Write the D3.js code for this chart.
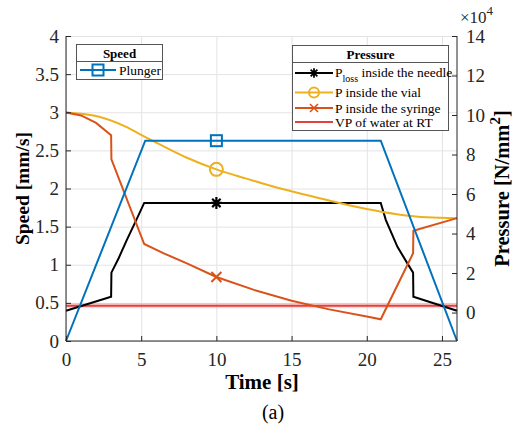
<html>
<head>
<style>
  body { margin: 0; background: #fff; }
  svg text { font-family: "Liberation Serif", "Times New Roman", serif; }
</style>
</head>
<body>
<svg id="chart" width="520" height="428"></svg>
<script src="https://cdn.jsdelivr.net/npm/d3@7"></script>
<script>
// speed (left axis)
var plungerT = [0, 5.27, 20.93, 26];
var plungerV = [0, 2.627, 2.627, 0];

// pressure, x10^4 (right axis)
var needleT = [0, 3.0, 3.02, 3.5, 4.04, 4.67, 5.2, 20.93, 21.27, 22.04, 22.7, 23.08, 23.1, 26];
var needleP = [0.09, 0.8, 2.02, 2.75, 3.67, 4.68, 5.55, 5.55, 4.68, 3.33, 2.49, 2.02, 0.8, 0.09];

var vialT = [0, 2, 4, 5, 6, 8, 10, 12, 14, 16, 18, 20, 22, 24, 26];
var vialP = [10.13, 9.95, 9.4, 8.99, 8.6, 7.85, 7.25, 6.78, 6.33, 5.95, 5.58, 5.24, 4.98, 4.82, 4.78];

var syringeT = [0, 1, 2, 3, 3.02, 5.2, 6.5, 8, 10, 12.5, 15, 17.5, 20, 20.93, 23.08, 23.1, 26];
var syringeP = [10.13, 9.98, 9.6, 8.98, 7.76, 3.47, 3.0, 2.5, 1.8, 1.15, 0.6, 0.16, -0.2, -0.34, 3.0, 4.14, 4.78];

var vaporP = 0.35;
var markerT = 10;

var xTicks = [0, 5, 10, 15, 20, 25];
var speedTicks = [0, 0.5, 1, 1.5, 2, 2.5, 3, 3.5, 4];
var pressTicks = [0, 2, 4, 6, 8, 10, 12, 14];

var blue = '#0072BD', orange = '#D95319', yellow = '#EDB120', red = '#E5403C', axisCol = '#262626';

var m = {left: 66, right: 63, top: 36, bottom: 87};
var W = 520 - m.left - m.right, H = 428 - m.top - m.bottom;

var svg = d3.select('#chart');
var g = svg.append('g').attr('transform', 'translate(' + m.left + ',' + m.top + ')');

var x = d3.scaleLinear().domain([0, 26]).range([0, W]);
var yS = d3.scaleLinear().domain([0, 4]).range([H, 0]);
var yP = d3.scaleLinear().domain([-1.44, 14]).range([H, 0]);

// grid
g.append('g').attr('class', 'grid')
  .attr('transform', 'translate(0,' + H + ')')
  .call(d3.axisBottom(x).tickValues(xTicks).tickSize(-H).tickFormat(''));
g.append('g').attr('class', 'grid')
  .call(d3.axisLeft(yS).tickValues(speedTicks).tickSize(-W).tickFormat(''));
g.selectAll('.grid .domain').remove();
g.selectAll('.grid line').attr('stroke', '#e3e3e3').attr('stroke-width', 1);

function pts(t, v) { return t.map(function(d, i) { return [d, v[i]]; }); }

// red vapour pressure line
g.append('line').attr('x1', 0).attr('x2', W).attr('y1', yP(vaporP)).attr('y2', yP(vaporP))
  .attr('stroke', red).attr('stroke-opacity', 0.2).attr('stroke-width', 5);
g.append('line').attr('x1', 0).attr('x2', W).attr('y1', yP(vaporP)).attr('y2', yP(vaporP))
  .attr('stroke', red).attr('stroke-width', 2);

var lineP = d3.line().x(function(d) { return x(d[0]); }).y(function(d) { return yP(d[1]); });
var lineS = d3.line().x(function(d) { return x(d[0]); }).y(function(d) { return yS(d[1]); });

g.append('path').datum(pts(needleT, needleP)).attr('d', lineP)
  .attr('fill', 'none').attr('stroke', '#000').attr('stroke-width', 2);
g.append('path').datum(pts(vialT, vialP)).attr('d', lineP.curve(d3.curveMonotoneX))
  .attr('fill', 'none').attr('stroke', yellow).attr('stroke-width', 2);
lineP.curve(d3.curveLinear);
g.append('path').datum(pts(syringeT, syringeP)).attr('d', lineP)
  .attr('fill', 'none').attr('stroke', orange).attr('stroke-width', 2);
g.append('path').datum(pts(plungerT, plungerV)).attr('d', lineS)
  .attr('fill', 'none').attr('stroke', blue).attr('stroke-width', 2);

// markers
function interp(t, v, at) {
  for (var i = 1; i < t.length; i++) {
    if (at <= t[i]) return v[i - 1] + (v[i] - v[i - 1]) * (at - t[i - 1]) / (t[i] - t[i - 1]);
  }
  return v[v.length - 1];
}
function marker(sel, type, cx, cy, col) {
  var mg = sel.append('g').attr('transform', 'translate(' + cx + ',' + cy + ')')
    .attr('stroke', col).attr('fill', 'none').attr('stroke-width', 2);
  if (type == 'square') mg.append('rect').attr('x', -5.5).attr('y', -5.5).attr('width', 11).attr('height', 11);
  if (type == 'circle') mg.append('circle').attr('r', 6.5);
  if (type == 'x') mg.append('path').attr('d', 'M-5,-5L5,5M-5,5L5,-5');
  if (type == 'star') mg.append('path').attr('d', 'M-5.5,0L5.5,0M0,-6L0,6M-4.2,-4.2L4.2,4.2M-4.2,4.2L4.2,-4.2').attr('stroke-width', 2.2);
}
marker(g, 'star', x(markerT), yP(interp(needleT, needleP, markerT)), '#000');
marker(g, 'circle', x(markerT), yP(interp(vialT, vialP, markerT)), yellow);
marker(g, 'x', x(markerT), yP(interp(syringeT, syringeP, markerT)), orange);
marker(g, 'square', x(markerT), yS(interp(plungerT, plungerV, markerT)), blue);

// axes
var fmt = d3.format('');
var ax = g.append('g').attr('transform', 'translate(0,' + H + ')')
  .call(d3.axisBottom(x).tickValues(xTicks).tickFormat(fmt).tickSize(-5).tickSizeOuter(0).tickPadding(12));
var ayl = g.append('g')
  .call(d3.axisLeft(yS).tickValues(speedTicks).tickFormat(fmt).tickSize(-5).tickSizeOuter(0).tickPadding(7));
var ayr = g.append('g').attr('transform', 'translate(' + W + ',0)')
  .call(d3.axisRight(yP).tickValues(pressTicks).tickFormat(fmt).tickSize(-5).tickSizeOuter(0).tickPadding(9));
[ax, ayl, ayr].forEach(function(a) {
  a.selectAll('path').attr('stroke', axisCol).attr('stroke-width', 1);
  a.selectAll('line').attr('stroke', axisCol);
  a.selectAll('text').attr('font-size', 19).attr('fill', axisCol);
});
ayr.selectAll('.domain').attr('d', 'M0,0V' + H);
ayl.selectAll('.domain').attr('d', 'M0,0V' + H);
ax.selectAll('.domain').attr('d', 'M0,0H' + W);

// exponent label
var ex = svg.append('text').attr('x', 460).attr('y', 23).attr('font-size', 17).attr('fill', axisCol);
ex.append('tspan').text('\u00d710');
ex.append('tspan').attr('dy', -8).attr('font-size', 13).text('4');

// axis titles
svg.append('text').attr('x', 262).attr('y', 389).attr('text-anchor', 'middle')
  .attr('font-size', 21).attr('font-weight', 'bold').attr('fill', '#000').text('Time [s]');
svg.append('text').attr('transform', 'translate(29,' + (m.top + H / 2) + ') rotate(-90)')
  .attr('text-anchor', 'middle').attr('font-size', 19.5).attr('font-weight', 'bold').attr('fill', '#000')
  .text('Speed [mm/s]');
var pt = svg.append('text').attr('transform', 'translate(509,' + (m.top + H / 2) + ') rotate(-90)')
  .attr('text-anchor', 'middle').attr('font-size', 20.5).attr('font-weight', 'bold').attr('fill', '#000');
pt.append('tspan').text('Pressure [N/mm');
pt.append('tspan').attr('dy', -9).attr('font-size', 15).text('2');
pt.append('tspan').attr('dy', 9).text(']');

svg.append('text').attr('x', 273).attr('y', 419).attr('text-anchor', 'middle')
  .attr('font-size', 20).attr('fill', '#000').text('(a)');

// legends
function legendBox(x0, y0, w, h, title) {
  var lg = svg.append('g');
  lg.append('rect').attr('x', x0).attr('y', y0).attr('width', w).attr('height', h)
    .attr('fill', '#fff').attr('stroke', '#555').attr('stroke-width', 1);
  lg.append('line').attr('x1', x0).attr('x2', x0 + w).attr('y1', y0 + 17).attr('y2', y0 + 17)
    .attr('stroke', '#555').attr('stroke-width', 1);
  lg.append('text').attr('x', x0 + w / 2).attr('y', y0 + 13).attr('text-anchor', 'middle')
    .attr('font-size', 13).attr('font-weight', 'bold').attr('fill', '#000').text(title);
  return lg;
}
var lg1 = legendBox(76.5, 44.5, 86, 35, 'Speed');
lg1.append('line').attr('x1', 80).attr('x2', 116).attr('y1', 70).attr('y2', 70)
  .attr('stroke', blue).attr('stroke-width', 2);
marker(lg1, 'square', 98, 70, blue);
lg1.append('text').attr('x', 119).attr('y', 74.5).attr('font-size', 13.5).attr('fill', '#000').text('Plunger');

var lg2 = legendBox(292.5, 45.5, 156, 85, 'Pressure');
var rows = [
  {y: 73, col: '#000', mk: 'star'},
  {y: 92.5, col: yellow, mk: 'circle', label: 'P inside the vial'},
  {y: 108, col: orange, mk: 'x', label: 'P inside the syringe'},
  {y: 122, col: red, mk: null, label: 'VP of water at RT'}
];
rows.forEach(function(r) {
  lg2.append('line').attr('x1', 295).attr('x2', 333).attr('y1', r.y).attr('y2', r.y)
    .attr('stroke', r.col).attr('stroke-width', 2);
  if (r.mk) {
    var gm = lg2.append('g');
    marker(gm, r.mk, 314, r.y, r.col);
    gm.selectAll('circle').attr('r', 5);
    gm.selectAll('rect, path').attr('transform', 'scale(0.8)');
  }
  if (r.label) lg2.append('text').attr('x', 335).attr('y', r.y + 4.5).attr('font-size', 13.5)
    .attr('fill', '#000').text(r.label);
});
var t0 = lg2.append('text').attr('x', 335).attr('y', 72.5 + 4.5).attr('font-size', 13.5).attr('fill', '#000');
t0.append('tspan').text('P');
t0.append('tspan').attr('dy', 5).attr('font-size', 10).text('loss');
t0.append('tspan').attr('dy', -5).text(' inside the needle');
</script>
</body>
</html>
